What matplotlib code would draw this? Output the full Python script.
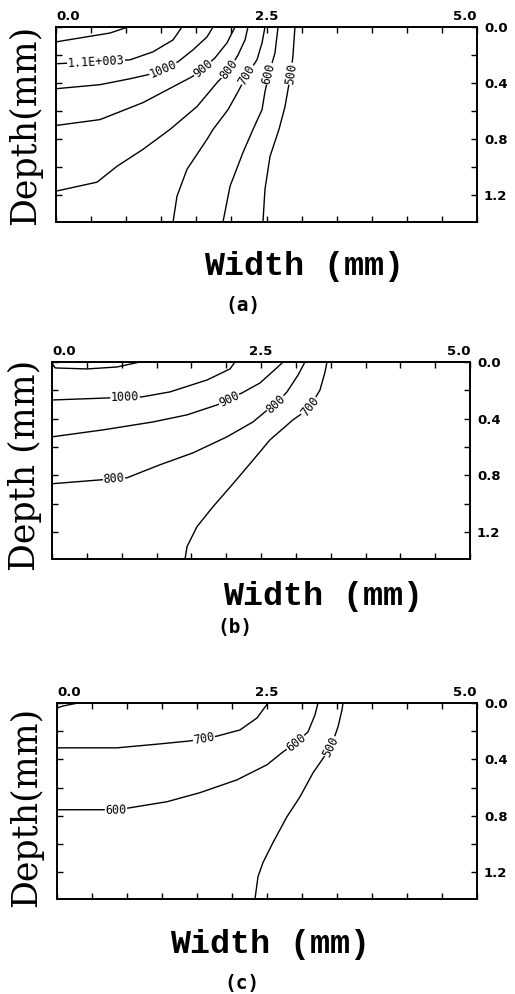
import numpy as np
import matplotlib
matplotlib.use("Agg")
import matplotlib.pyplot as plt

W_PX, H_PX = 515, 994
DEPTH_MAX = 1.39

# tick marks / labels shared by the three panels
X_TICKS = [i * 5.0 / 12 for i in range(13)]
X_TICK_LABELS = ["0.0", "", "", "", "", "", "2.5", "", "", "", "", "", "5.0"]
Y_TICKS = [0.0, 0.2, 0.4, 0.6, 0.8, 1.0, 1.2]
Y_TICK_LABELS = ["0.0", "", "0.4", "", "0.8", "", "1.2"]

# ---- panel (a) isotherms: width (mm), depth (mm) ----
a_1200_w = [0.0, 0.285, 0.641, 0.855]
a_1200_d = [0.106, 0.078, 0.043, 0.0]
a_1100_w = [0.0, 0.475, 0.879, 1.152, 1.390, 1.496]
a_1100_d = [0.262, 0.248, 0.234, 0.177, 0.092, 0.0]
a_1000_w = [0.0, 0.523, 0.879, 1.093, 1.271, 1.449, 1.627, 1.793, 1.865]
a_1000_d = [0.440, 0.411, 0.369, 0.340, 0.298, 0.248, 0.163, 0.071, 0.0]
a_900_w = [0.0, 0.523, 1.033, 1.437, 1.615, 1.746, 1.888, 2.031, 2.126]
a_900_d = [0.702, 0.660, 0.539, 0.411, 0.355, 0.298, 0.220, 0.113, 0.0]
a_800_w = [0.0, 0.487, 0.724, 1.033, 1.354, 1.675, 1.912, 2.055, 2.162, 2.245, 2.280]
a_800_d = [1.170, 1.106, 0.993, 0.872, 0.730, 0.567, 0.397, 0.305, 0.199, 0.092, 0.0]
a_700_w = [1.390, 1.437, 1.556, 1.793, 1.865, 2.043, 2.162, 2.268, 2.387, 2.447, 2.482]
a_700_d = [1.390, 1.206, 1.014, 0.801, 0.730, 0.589, 0.461, 0.340, 0.234, 0.113, 0.0]
a_600_w = [1.983, 2.067, 2.221, 2.340, 2.447, 2.482, 2.530, 2.601, 2.637]
a_600_d = [1.390, 1.135, 0.894, 0.730, 0.589, 0.461, 0.333, 0.184, 0.0]
a_500_w = [2.458, 2.482, 2.542, 2.648, 2.720, 2.755, 2.791, 2.815, 2.838]
a_500_d = [1.390, 1.156, 0.922, 0.730, 0.567, 0.447, 0.333, 0.199, 0.0]

# ---- panel (b) ----
b_1100_w = [0.0, 0.04, 0.42, 0.78, 1.05]
b_1100_d = [0.010, 0.042, 0.049, 0.035, 0.0]
b_1000_w = [0.0, 0.658, 0.873, 1.077, 1.411, 1.854, 2.129, 2.189]
b_1000_d = [0.268, 0.254, 0.246, 0.246, 0.211, 0.127, 0.049, 0.0]
b_900_w = [0.0, 0.610, 1.208, 1.615, 1.974, 2.117, 2.273, 2.488, 2.727, 2.763]
b_900_d = [0.528, 0.479, 0.423, 0.373, 0.303, 0.261, 0.218, 0.148, 0.021, 0.0]
b_800_w = [0.0, 0.742, 0.897, 1.292, 1.687, 2.093, 2.404, 2.548, 2.679, 2.811, 2.943, 3.026]
b_800_d = [0.859, 0.824, 0.817, 0.725, 0.641, 0.528, 0.423, 0.352, 0.296, 0.211, 0.092, 0.0]
b_700_w = [1.591, 1.615, 1.734, 1.926, 2.165, 2.368, 2.608, 2.883, 2.967, 3.086, 3.206, 3.266, 3.289]
b_700_d = [1.390, 1.303, 1.162, 1.021, 0.859, 0.718, 0.549, 0.408, 0.373, 0.317, 0.197, 0.070, 0.0]

# ---- panel (c) ----
c_800_w = [0.0, 0.08, 0.25]
c_800_d = [0.035, 0.020, 0.0]
c_700_w = [0.0, 0.714, 1.226, 1.583, 1.750, 1.917, 2.179, 2.381, 2.512]
c_700_d = [0.318, 0.318, 0.290, 0.269, 0.255, 0.233, 0.191, 0.106, 0.0]
c_600_w = [0.0, 0.702, 0.869, 1.310, 1.702, 2.143, 2.5, 2.690, 2.845, 2.988, 3.071, 3.107]
c_600_d = [0.757, 0.757, 0.743, 0.700, 0.636, 0.545, 0.438, 0.347, 0.283, 0.205, 0.085, 0.0]
c_500_w = [2.357, 2.393, 2.452, 2.571, 2.738, 2.893, 3.048, 3.155, 3.262, 3.345, 3.393, 3.405]
c_500_d = [1.390, 1.231, 1.132, 0.990, 0.806, 0.665, 0.495, 0.403, 0.311, 0.170, 0.049, 0.0]

# (label, widths, depths, indices of the points carrying an inline label)
panels = [
    dict(rect=(56, 27, 477, 222), tag="(a)", ylabel="Depth(mm)",
         xlab_at=(304, 266), tag_at=(243, 305), ylab_at=(25, 125),
         lines=[("", a_1200_w, a_1200_d, []),
                ("1.1E+003", a_1100_w, a_1100_d, [1]),
                ("1000", a_1000_w, a_1000_d, [4]),
                ("900", a_900_w, a_900_d, [5]),
                ("800", a_800_w, a_800_d, [7]),
                ("700", a_700_w, a_700_d, [7]),
                ("600", a_600_w, a_600_d, [6]),
                ("500", a_500_w, a_500_d, [6])]),
    dict(rect=(52, 362, 470, 559), tag="(b)", ylabel="Depth (mm)",
         xlab_at=(323, 596), tag_at=(235, 627), ylab_at=(25, 465),
         lines=[("", b_1100_w, b_1100_d, []),
                ("1000", b_1000_w, b_1000_d, [2]),
                ("900", b_900_w, b_900_d, [5]),
                ("800", b_800_w, b_800_d, [1, 8]),
                ("700", b_700_w, b_700_d, [9])]),
    dict(rect=(57, 703, 477, 899), tag="(c)", ylabel="Depth(mm)",
         xlab_at=(270, 944), tag_at=(242, 983), ylab_at=(26, 807),
         lines=[("", c_800_w, c_800_d, []),
                ("700", c_700_w, c_700_d, [4]),
                ("600", c_600_w, c_600_d, [1, 8]),
                ("500", c_500_w, c_500_d, [8])]),
]


def fx(px):
    return px / W_PX


def fy(py):
    return 1 - py / H_PX


def draw_panel(fig, p):
    x0, y0, x1, y1 = p["rect"]
    ax = fig.add_axes([fx(x0), fy(y1), (x1 - x0) / W_PX, (y1 - y0) / H_PX])
    ax.set_xlim(0, 5.0)
    ax.set_ylim(DEPTH_MAX, 0)

    ax.set_xticks(X_TICKS)
    ax.set_xticklabels(X_TICK_LABELS)
    ax.set_yticks(Y_TICKS)
    ax.set_yticklabels(Y_TICK_LABELS)
    ax.tick_params(axis="x", direction="in", top=True, bottom=True,
                   labeltop=True, labelbottom=False, length=4, width=1, pad=3)
    ax.tick_params(axis="y", direction="in", left=True, right=True,
                   labelright=True, labelleft=False, length=4, width=1, pad=5)
    for lab in ax.get_xticklabels() + ax.get_yticklabels():
        lab.set_fontweight("bold")
        lab.set_fontsize(9.5)
    xl = ax.get_xticklabels()
    xl[0].set_horizontalalignment("left")
    xl[-1].set_horizontalalignment("right")
    for s in ax.spines.values():
        s.set_linewidth(1.4)

    for text, w, d, label_at in p["lines"]:
        ax.plot(w, d, color="black", lw=1.0)
        for i in label_at:
            q0 = ax.transData.transform((w[i - 1], d[i - 1]))
            q1 = ax.transData.transform((w[i + 1], d[i + 1]))
            ang = np.degrees(np.arctan2(q1[1] - q0[1], q1[0] - q0[0]))
            if ang > 90:
                ang -= 180
            elif ang < -90:
                ang += 180
            ax.text(w[i], d[i], text, rotation=ang, rotation_mode="anchor",
                    ha="center", va="center", fontsize=8.5,
                    family="DejaVu Sans Mono",
                    bbox=dict(fc="white", ec="none", pad=0.3))

    fig.text(fx(p["xlab_at"][0]), fy(p["xlab_at"][1]), "Width (mm)",
             ha="center", va="center", fontsize=24, fontweight="bold",
             family="Liberation Mono")
    fig.text(fx(p["tag_at"][0]), fy(p["tag_at"][1]), p["tag"],
             ha="center", va="center", fontsize=14, fontweight="bold",
             family="DejaVu Sans Mono")
    fig.text(fx(p["ylab_at"][0]), fy(p["ylab_at"][1]), p["ylabel"],
             ha="center", va="center", rotation=90, fontsize=25,
             family="DejaVu Serif")
    return ax


fig = plt.figure(figsize=(W_PX / 100, H_PX / 100), dpi=100)
for p in panels:
    draw_panel(fig, p)

fig.savefig("out.png", dpi=100)
